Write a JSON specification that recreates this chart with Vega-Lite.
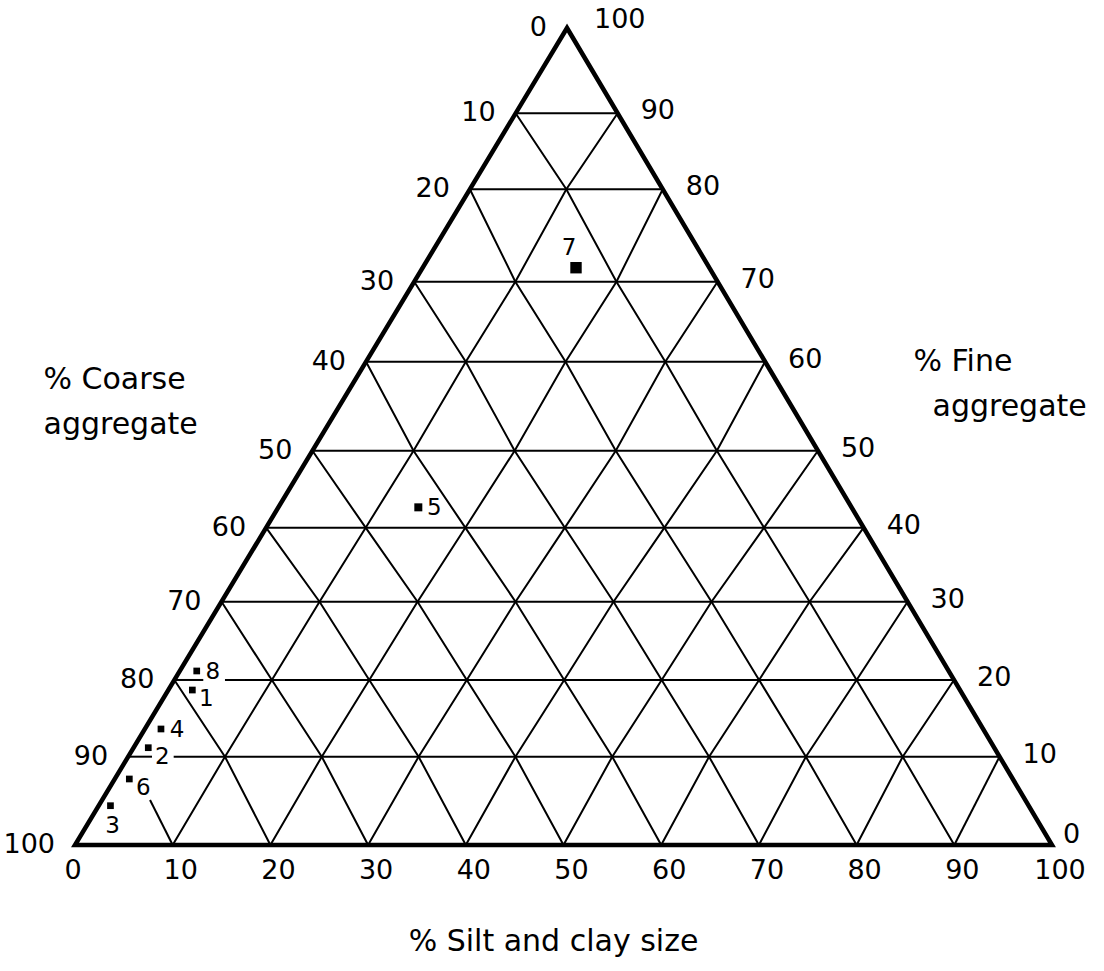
{
  "$schema": "https://vega.github.io/schema/vega-lite/v6.json",
  "width": 977,
  "height": 817,
  "autosize": {"type": "none"},
  "padding": {"left": 75, "top": 28, "right": 52, "bottom": 126},
  "background": "white",
  "config": {"view": {"stroke": null}},
  "datasets": {
    "grid": [
      {"g": "h10a", "x": 5.44, "h": 10.81}, {"g": "h10a", "x": 7.88, "h": 10.81},
      {"g": "h10b", "x": 10.1, "h": 10.81}, {"g": "h10b", "x": 94.63, "h": 10.81},
      {"g": "h20a", "x": 10.17, "h": 20.2}, {"g": "h20a", "x": 13.13, "h": 20.2},
      {"g": "h20b", "x": 15.35, "h": 20.2}, {"g": "h20b", "x": 89.97, "h": 20.2},
      {"g": "h30", "x": 15.0, "h": 29.78}, {"g": "h30", "x": 85.22, "h": 29.78},
      {"g": "h40", "x": 19.56, "h": 38.84}, {"g": "h40", "x": 80.72, "h": 38.84},
      {"g": "h50", "x": 24.3, "h": 48.26}, {"g": "h50", "x": 76.04, "h": 48.26},
      {"g": "h60", "x": 29.79, "h": 59.16}, {"g": "h60", "x": 70.63, "h": 59.16},
      {"g": "h70", "x": 34.72, "h": 68.95}, {"g": "h70", "x": 65.77, "h": 68.95},
      {"g": "h80", "x": 40.42, "h": 80.26}, {"g": "h80", "x": 60.16, "h": 80.26},
      {"g": "h90", "x": 45.1, "h": 89.56}, {"g": "h90", "x": 55.54, "h": 89.56},

      {"g": "u10", "x": 10, "h": 0}, {"g": "u10", "x": 15.35, "h": 10.81}, {"g": "u10", "x": 20.15, "h": 20.2}, {"g": "u10", "x": 25.03, "h": 29.78}, {"g": "u10", "x": 29.75, "h": 38.84}, {"g": "u10", "x": 34.65, "h": 48.26}, {"g": "u10", "x": 40.0, "h": 59.16}, {"g": "u10", "x": 45.07, "h": 68.95}, {"g": "u10", "x": 50.29, "h": 80.26}, {"g": "u10", "x": 55.54, "h": 89.56},
      {"g": "u20", "x": 20, "h": 0}, {"g": "u20", "x": 25.26, "h": 10.81}, {"g": "u20", "x": 30.12, "h": 20.2}, {"g": "u20", "x": 35.06, "h": 29.78}, {"g": "u20", "x": 39.95, "h": 38.84}, {"g": "u20", "x": 45.0, "h": 48.26}, {"g": "u20", "x": 50.21, "h": 59.16}, {"g": "u20", "x": 55.42, "h": 68.95}, {"g": "u20", "x": 60.16, "h": 80.26},
      {"g": "u30", "x": 30, "h": 0}, {"g": "u30", "x": 35.17, "h": 10.81}, {"g": "u30", "x": 40.1, "h": 20.2}, {"g": "u30", "x": 45.09, "h": 29.78}, {"g": "u30", "x": 50.14, "h": 38.84}, {"g": "u30", "x": 55.35, "h": 48.26}, {"g": "u30", "x": 60.42, "h": 59.16}, {"g": "u30", "x": 65.77, "h": 68.95},
      {"g": "u40", "x": 40, "h": 0}, {"g": "u40", "x": 45.08, "h": 10.81}, {"g": "u40", "x": 50.07, "h": 20.2}, {"g": "u40", "x": 55.12, "h": 29.78}, {"g": "u40", "x": 60.33, "h": 38.84}, {"g": "u40", "x": 65.7, "h": 48.26}, {"g": "u40", "x": 70.63, "h": 59.16},
      {"g": "u50", "x": 50, "h": 0}, {"g": "u50", "x": 54.99, "h": 10.81}, {"g": "u50", "x": 60.05, "h": 20.2}, {"g": "u50", "x": 65.15, "h": 29.78}, {"g": "u50", "x": 70.53, "h": 38.84}, {"g": "u50", "x": 76.04, "h": 48.26},
      {"g": "u60", "x": 60, "h": 0}, {"g": "u60", "x": 64.9, "h": 10.81}, {"g": "u60", "x": 70.02, "h": 20.2}, {"g": "u60", "x": 75.19, "h": 29.78}, {"g": "u60", "x": 80.72, "h": 38.84},
      {"g": "u70", "x": 70, "h": 0}, {"g": "u70", "x": 74.81, "h": 10.81}, {"g": "u70", "x": 80.0, "h": 20.2}, {"g": "u70", "x": 85.22, "h": 29.78},
      {"g": "u80", "x": 80, "h": 0}, {"g": "u80", "x": 84.72, "h": 10.81}, {"g": "u80", "x": 89.97, "h": 20.2},
      {"g": "u90", "x": 90, "h": 0}, {"g": "u90", "x": 94.63, "h": 10.81},

      {"g": "d10", "x": 7.68, "h": 5.51}, {"g": "d10", "x": 10, "h": 0},
      {"g": "d20", "x": 10.17, "h": 20.2}, {"g": "d20", "x": 15.35, "h": 10.81}, {"g": "d20", "x": 20, "h": 0},
      {"g": "d30", "x": 15.0, "h": 29.78}, {"g": "d30", "x": 20.15, "h": 20.2}, {"g": "d30", "x": 25.26, "h": 10.81}, {"g": "d30", "x": 30, "h": 0},
      {"g": "d40", "x": 19.56, "h": 38.84}, {"g": "d40", "x": 25.03, "h": 29.78}, {"g": "d40", "x": 30.12, "h": 20.2}, {"g": "d40", "x": 35.17, "h": 10.81}, {"g": "d40", "x": 40, "h": 0},
      {"g": "d50", "x": 24.3, "h": 48.26}, {"g": "d50", "x": 29.75, "h": 38.84}, {"g": "d50", "x": 35.06, "h": 29.78}, {"g": "d50", "x": 40.1, "h": 20.2}, {"g": "d50", "x": 45.08, "h": 10.81}, {"g": "d50", "x": 50, "h": 0},
      {"g": "d60", "x": 29.79, "h": 59.16}, {"g": "d60", "x": 34.65, "h": 48.26}, {"g": "d60", "x": 39.95, "h": 38.84}, {"g": "d60", "x": 45.09, "h": 29.78}, {"g": "d60", "x": 50.07, "h": 20.2}, {"g": "d60", "x": 54.99, "h": 10.81}, {"g": "d60", "x": 60, "h": 0},
      {"g": "d70", "x": 34.72, "h": 68.95}, {"g": "d70", "x": 40.0, "h": 59.16}, {"g": "d70", "x": 45.0, "h": 48.26}, {"g": "d70", "x": 50.14, "h": 38.84}, {"g": "d70", "x": 55.12, "h": 29.78}, {"g": "d70", "x": 60.05, "h": 20.2}, {"g": "d70", "x": 64.9, "h": 10.81}, {"g": "d70", "x": 70, "h": 0},
      {"g": "d80", "x": 40.42, "h": 80.26}, {"g": "d80", "x": 45.07, "h": 68.95}, {"g": "d80", "x": 50.21, "h": 59.16}, {"g": "d80", "x": 55.35, "h": 48.26}, {"g": "d80", "x": 60.33, "h": 38.84}, {"g": "d80", "x": 65.15, "h": 29.78}, {"g": "d80", "x": 70.02, "h": 20.2}, {"g": "d80", "x": 74.81, "h": 10.81}, {"g": "d80", "x": 80, "h": 0},
      {"g": "d90", "x": 45.1, "h": 89.56}, {"g": "d90", "x": 50.29, "h": 80.26}, {"g": "d90", "x": 55.42, "h": 68.95}, {"g": "d90", "x": 60.42, "h": 59.16}, {"g": "d90", "x": 65.7, "h": 48.26}, {"g": "d90", "x": 70.53, "h": 38.84}, {"g": "d90", "x": 75.19, "h": 29.78}, {"g": "d90", "x": 80.0, "h": 20.2}, {"g": "d90", "x": 84.72, "h": 10.81}, {"g": "d90", "x": 90, "h": 0}
    ],
    "edges": [
      {"g": "edge", "x": 50, "h": 0},
      {"g": "edge", "x": 100, "h": 0},
      {"g": "edge", "x": 50.36, "h": 100},
      {"g": "edge", "x": 0, "h": 0},
      {"g": "edge", "x": 50, "h": 0}
    ],
    "samples": [
      {"sample": "1", "silt": 2.5, "fine": 18.7, "coarse": 78.8, "x": 12.01, "h": 18.97},
      {"sample": "2", "silt": 1.5, "fine": 11.2, "coarse": 87.3, "x": 7.5, "h": 11.91},
      {"sample": "3", "silt": 1.2, "fine": 4.5, "coarse": 94.3, "x": 3.63, "h": 4.81},
      {"sample": "4", "silt": 1.7, "fine": 13.6, "coarse": 84.7, "x": 8.8, "h": 14.2},
      {"sample": "5", "silt": 14.0, "fine": 42.6, "coarse": 43.4, "x": 35.14, "h": 41.33},
      {"sample": "6", "silt": 1.5, "fine": 7.5, "coarse": 91.0, "x": 5.56, "h": 8.08},
      {"sample": "7", "silt": 15.3, "fine": 71.5, "coarse": 13.2, "x": 51.28, "h": 70.66},
      {"sample": "8", "silt": 1.7, "fine": 21.1, "coarse": 77.2, "x": 12.46, "h": 21.3}
    ],
    "labels": [
      {"side": "L", "v": "0", "x": 50.36, "h": 100},
      {"side": "L", "v": "10", "x": 45.1, "h": 89.56},
      {"side": "L", "v": "20", "x": 40.42, "h": 80.26},
      {"side": "L", "v": "30", "x": 34.72, "h": 68.95},
      {"side": "L", "v": "40", "x": 29.79, "h": 59.16},
      {"side": "L", "v": "50", "x": 24.3, "h": 48.26},
      {"side": "L", "v": "60", "x": 19.56, "h": 38.84},
      {"side": "L", "v": "70", "x": 15.0, "h": 29.78},
      {"side": "L", "v": "80", "x": 10.17, "h": 20.2},
      {"side": "L", "v": "90", "x": 5.44, "h": 10.81},
      {"side": "L", "v": "100", "x": 0, "h": 0},
      {"side": "R0", "v": "0", "x": 100, "h": 0},
      {"side": "R", "v": "10", "x": 94.63, "h": 10.81},
      {"side": "R", "v": "20", "x": 89.97, "h": 20.2},
      {"side": "R", "v": "30", "x": 85.22, "h": 29.78},
      {"side": "R", "v": "40", "x": 80.72, "h": 38.84},
      {"side": "R", "v": "50", "x": 76.04, "h": 48.26},
      {"side": "R", "v": "60", "x": 70.63, "h": 59.16},
      {"side": "R", "v": "70", "x": 65.77, "h": 68.95},
      {"side": "R", "v": "80", "x": 60.16, "h": 80.26},
      {"side": "R", "v": "90", "x": 55.54, "h": 89.56},
      {"side": "R100", "v": "100", "x": 50.36, "h": 100},
      {"side": "B0", "v": "0", "x": 0, "h": 0},
      {"side": "B", "v": "10", "x": 10, "h": 0},
      {"side": "B", "v": "20", "x": 20, "h": 0},
      {"side": "B", "v": "30", "x": 30, "h": 0},
      {"side": "B", "v": "40", "x": 40, "h": 0},
      {"side": "B", "v": "50", "x": 50, "h": 0},
      {"side": "B", "v": "60", "x": 60, "h": 0},
      {"side": "B", "v": "70", "x": 70, "h": 0},
      {"side": "B", "v": "80", "x": 80, "h": 0},
      {"side": "B", "v": "90", "x": 90, "h": 0},
      {"side": "B", "v": "100", "x": 100, "h": 0}
    ]
  },
  "layer": [
    {
      "data": {"name": "grid"},
      "mark": {"type": "line", "stroke": "black", "strokeWidth": 2},
      "encoding": {
        "x": {"field": "x", "type": "quantitative", "scale": {"domain": [0, 100], "nice": false, "zero": false},
          "axis": {"title": "% Silt and clay size", "orient": "bottom", "domain": false, "ticks": false, "labels": false, "grid": false,
            "titleFont": "DejaVu Sans", "titleFontSize": 30, "titleFontWeight": "normal", "titleColor": "black",
            "titleAlign": "center", "titleBaseline": "middle", "titleX": 478, "titleY": 96}},
        "y": {"field": "h", "type": "quantitative", "scale": {"domain": [0, 100], "nice": false, "zero": false},
          "axis": {"title": ["% Coarse", "aggregate"], "orient": "left", "domain": false, "ticks": false, "labels": false, "grid": false,
            "titleFont": "DejaVu Sans", "titleFontSize": 30, "titleFontWeight": "normal", "titleColor": "black",
            "titleAngle": 0, "titleAlign": "left", "titleBaseline": "middle", "titleLineHeight": 45, "titleX": -32, "titleY": 351}},
        "detail": {"field": "g"},
        "order": {"value": null}
      }
    },
    {
      "data": {"name": "edges"},
      "mark": {"type": "line", "stroke": "black", "strokeWidth": 4.5, "strokeJoin": "miter"},
      "encoding": {
        "x": {"field": "x", "type": "quantitative", "scale": {"domain": [0, 100], "nice": false, "zero": false}, "axis": null},
        "y": {"field": "h", "type": "quantitative", "scale": {"domain": [0, 100], "nice": false, "zero": false},
          "axis": {"title": "% Fine", "orient": "right", "domain": false, "ticks": false, "labels": false, "grid": false,
            "titleFont": "DejaVu Sans", "titleFontSize": 30, "titleFontWeight": "normal", "titleColor": "black",
            "titleAngle": 0, "titleAlign": "left", "titleBaseline": "middle", "titleX": -139, "titleY": 333}},
        "detail": {"field": "g"},
        "order": {"value": null}
      }
    },
    {
      "data": {"name": "samples"},
      "mark": {"type": "point", "shape": "square", "filled": true, "color": "black", "opacity": 1},
      "encoding": {
        "x": {"field": "x", "type": "quantitative", "scale": {"domain": [0, 100], "nice": false, "zero": false},
          "axis": {"title": "aggregate", "orient": "top", "domain": false, "ticks": false, "labels": false, "grid": false,
            "titleFont": "DejaVu Sans", "titleFontSize": 30, "titleFontWeight": "normal", "titleColor": "black",
            "titleAngle": 0, "titleAlign": "left", "titleBaseline": "middle", "titleX": 857, "titleY": 378}},
        "y": {"field": "h", "type": "quantitative", "scale": {"domain": [0, 100], "nice": false, "zero": false}, "axis": null},
        "size": {"condition": [{"test": "datum.sample === '7'", "value": 130}, {"test": "datum.sample === '5'", "value": 64}], "value": 45}
      }
    },
    {
      "data": {"name": "samples"},
      "transform": [{"filter": "datum.sample === '1' || datum.sample === '2' || datum.sample === '6'"}],
      "mark": {"type": "text", "font": "DejaVu Sans", "fontSize": 23, "color": "black", "align": "center", "baseline": "middle", "dx": 14, "dy": 9},
      "encoding": {
        "x": {"field": "x", "type": "quantitative", "scale": {"domain": [0, 100], "nice": false, "zero": false}, "axis": null},
        "y": {"field": "h", "type": "quantitative", "scale": {"domain": [0, 100], "nice": false, "zero": false}, "axis": null},
        "text": {"field": "sample"}
      }
    },
    {
      "data": {"name": "samples"},
      "transform": [{"filter": "datum.sample === '8' || datum.sample === '4' || datum.sample === '5'"}],
      "mark": {"type": "text", "font": "DejaVu Sans", "fontSize": 23, "color": "black", "align": "center", "baseline": "middle", "dx": 16, "dy": 1},
      "encoding": {
        "x": {"field": "x", "type": "quantitative", "scale": {"domain": [0, 100], "nice": false, "zero": false}, "axis": null},
        "y": {"field": "h", "type": "quantitative", "scale": {"domain": [0, 100], "nice": false, "zero": false}, "axis": null},
        "text": {"field": "sample"}
      }
    },
    {
      "data": {"name": "samples"},
      "transform": [{"filter": "datum.sample === '7'"}],
      "mark": {"type": "text", "font": "DejaVu Sans", "fontSize": 23, "color": "black", "align": "center", "baseline": "middle", "dx": -7, "dy": -20},
      "encoding": {
        "x": {"field": "x", "type": "quantitative", "scale": {"domain": [0, 100], "nice": false, "zero": false}, "axis": null},
        "y": {"field": "h", "type": "quantitative", "scale": {"domain": [0, 100], "nice": false, "zero": false}, "axis": null},
        "text": {"field": "sample"}
      }
    },
    {
      "data": {"name": "samples"},
      "transform": [{"filter": "datum.sample === '3'"}],
      "mark": {"type": "text", "font": "DejaVu Sans", "fontSize": 23, "color": "black", "align": "center", "baseline": "middle", "dx": 2, "dy": 20},
      "encoding": {
        "x": {"field": "x", "type": "quantitative", "scale": {"domain": [0, 100], "nice": false, "zero": false}, "axis": null},
        "y": {"field": "h", "type": "quantitative", "scale": {"domain": [0, 100], "nice": false, "zero": false}, "axis": null},
        "text": {"field": "sample"}
      }
    },
    {
      "data": {"name": "labels"},
      "transform": [{"filter": "datum.side === 'L'"}],
      "mark": {"type": "text", "font": "DejaVu Sans", "fontSize": 27, "color": "black", "align": "right", "baseline": "middle", "dx": -20},
      "encoding": {
        "x": {"field": "x", "type": "quantitative", "scale": {"domain": [0, 100], "nice": false, "zero": false}, "axis": null},
        "y": {"field": "h", "type": "quantitative", "scale": {"domain": [0, 100], "nice": false, "zero": false}, "axis": null},
        "text": {"field": "v"}
      }
    },
    {
      "data": {"name": "labels"},
      "transform": [{"filter": "datum.side === 'R'"}],
      "mark": {"type": "text", "font": "DejaVu Sans", "fontSize": 27, "color": "black", "align": "left", "baseline": "middle", "dx": 23, "dy": -2},
      "encoding": {
        "x": {"field": "x", "type": "quantitative", "scale": {"domain": [0, 100], "nice": false, "zero": false}, "axis": null},
        "y": {"field": "h", "type": "quantitative", "scale": {"domain": [0, 100], "nice": false, "zero": false}, "axis": null},
        "text": {"field": "v"}
      }
    },
    {
      "data": {"name": "labels"},
      "transform": [{"filter": "datum.side === 'R0'"}],
      "mark": {"type": "text", "font": "DejaVu Sans", "fontSize": 27, "color": "black", "align": "left", "baseline": "middle", "dx": 11, "dy": -10},
      "encoding": {
        "x": {"field": "x", "type": "quantitative", "scale": {"domain": [0, 100], "nice": false, "zero": false}, "axis": null},
        "y": {"field": "h", "type": "quantitative", "scale": {"domain": [0, 100], "nice": false, "zero": false}, "axis": null},
        "text": {"field": "v"}
      }
    },
    {
      "data": {"name": "labels"},
      "transform": [{"filter": "datum.side === 'R100'"}],
      "mark": {"type": "text", "font": "DejaVu Sans", "fontSize": 27, "color": "black", "align": "left", "baseline": "middle", "dx": 27, "dy": -8},
      "encoding": {
        "x": {"field": "x", "type": "quantitative", "scale": {"domain": [0, 100], "nice": false, "zero": false}, "axis": null},
        "y": {"field": "h", "type": "quantitative", "scale": {"domain": [0, 100], "nice": false, "zero": false}, "axis": null},
        "text": {"field": "v"}
      }
    },
    {
      "data": {"name": "labels"},
      "transform": [{"filter": "datum.side === 'B'"}],
      "mark": {"type": "text", "font": "DejaVu Sans", "fontSize": 27, "color": "black", "align": "center", "baseline": "middle", "dx": 8, "dy": 26},
      "encoding": {
        "x": {"field": "x", "type": "quantitative", "scale": {"domain": [0, 100], "nice": false, "zero": false}, "axis": null},
        "y": {"field": "h", "type": "quantitative", "scale": {"domain": [0, 100], "nice": false, "zero": false}, "axis": null},
        "text": {"field": "v"}
      }
    },
    {
      "data": {"name": "labels"},
      "transform": [{"filter": "datum.side === 'B0'"}],
      "mark": {"type": "text", "font": "DejaVu Sans", "fontSize": 27, "color": "black", "align": "center", "baseline": "middle", "dx": -2, "dy": 26},
      "encoding": {
        "x": {"field": "x", "type": "quantitative", "scale": {"domain": [0, 100], "nice": false, "zero": false}, "axis": null},
        "y": {"field": "h", "type": "quantitative", "scale": {"domain": [0, 100], "nice": false, "zero": false}, "axis": null},
        "text": {"field": "v"}
      }
    }
  ],
  "resolve": {"axis": {"x": "independent", "y": "independent"}}
}
